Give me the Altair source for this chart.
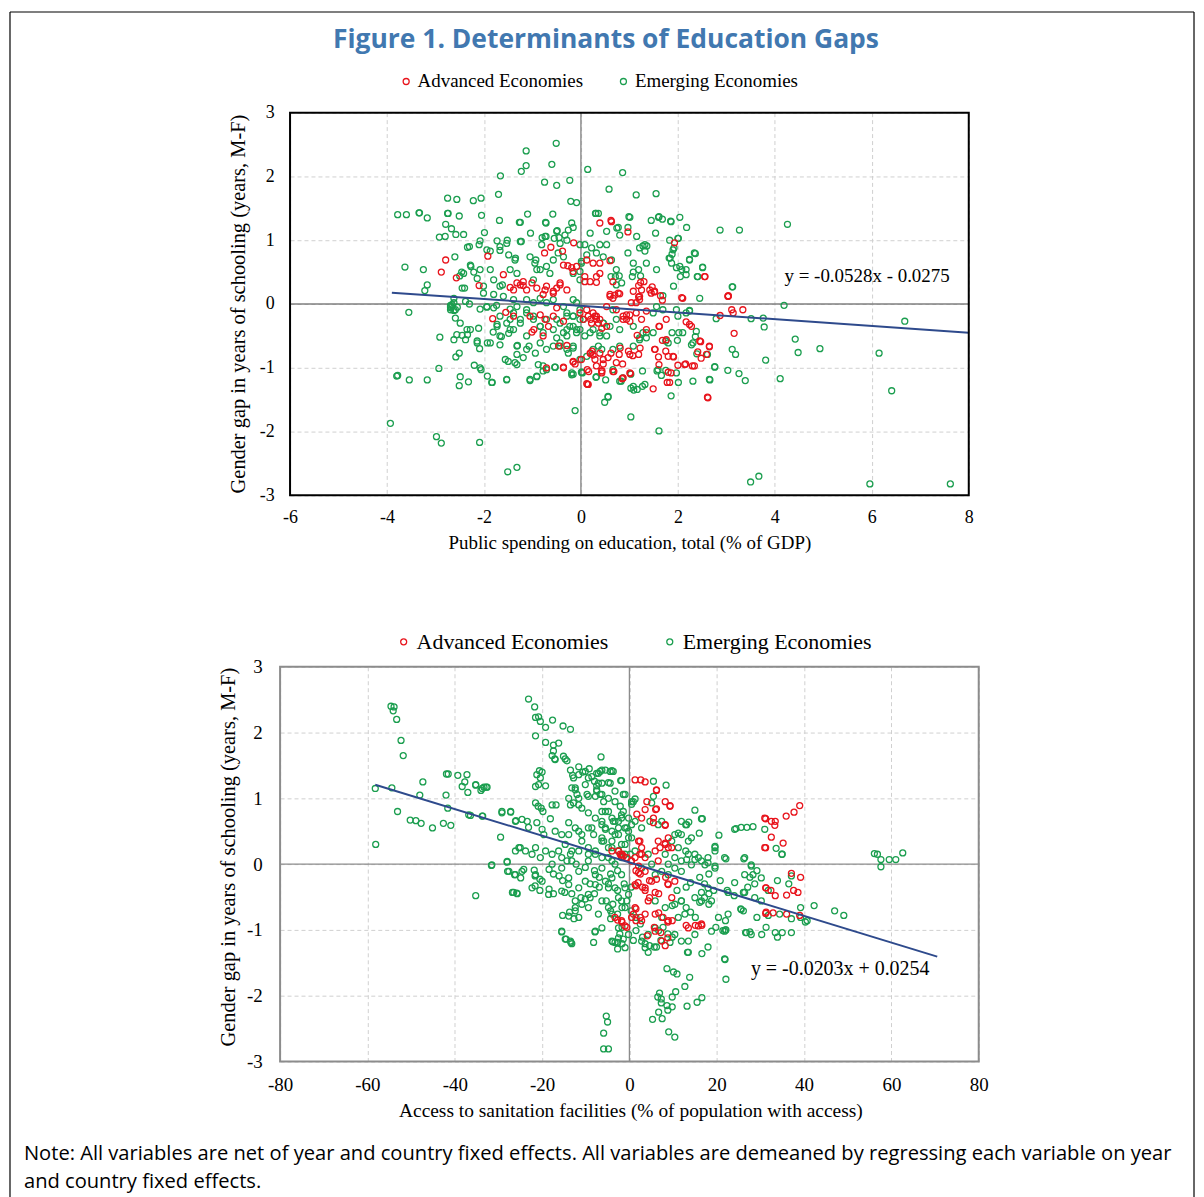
import altair as alt
import pandas as pd

# ---------------- data ----------------
SERIES = ["Advanced Economies", "Emerging Economies"]
COLORS = ["#E8141C", "#1B9E4F"]

TOP_EMG = [
    (-0.51, 2.52), (-1.13, 2.40), (-1.13, 2.17), (-1.23, 2.08), (-0.60, 2.19), (0.14, 2.11), (-1.66, 2.01),
    (-0.75, 1.91), (-0.50, 1.86), (-0.23, 1.94), (-1.70, 1.72), (-2.75, 1.66), (-2.56, 1.64), (-2.22, 1.62),
    (-2.06, 1.66), (-0.21, 1.61), (-0.09, 1.59), (-3.78, 1.40), (-3.60, 1.40), (-3.34, 1.43), (-3.17, 1.35),
    (-2.75, 1.42), (-2.51, 1.38), (-2.05, 1.39), (-1.68, 1.31), (-1.10, 1.41), (-1.27, 1.28), (-0.58, 1.41),
    (-0.73, 1.28), (0.31, 1.42), (0.36, 1.42), (-2.79, 1.25), (-2.67, 1.18), (-2.92, 1.05), (-2.80, 1.06),
    (-2.58, 1.09), (-2.42, 1.09), (-2.08, 0.99), (-2.10, 0.93), (-2.30, 0.90), (-2.34, 0.89), (-1.99, 1.12),
    (-1.73, 0.99), (-1.52, 1.00), (-1.23, 0.98), (-1.04, 1.11), (-0.80, 1.04), (-0.72, 1.06), (-0.55, 1.03),
    (-0.45, 1.04), (-0.33, 1.08), (-0.26, 1.16), (-0.16, 1.20), (-0.49, 1.15), (0.19, 1.11), (0.53, 1.14),
    (0.77, 1.20), (-2.60, 0.74), (-3.63, 0.58), (-3.25, 0.54), (-3.17, 0.30), (-3.22, 0.21), (-3.55, -0.13),
    (-2.46, 0.50), (-2.50, 0.44), (-2.27, 0.59), (-2.21, 0.50), (-2.14, 0.40), (-2.40, 0.25), (-1.94, 0.85),
    (-1.87, 0.83), (-1.67, 0.84), (-2.01, 0.17), (-1.80, 0.15), (-1.62, 0.30), (-1.35, 0.72), (-1.05, 0.74),
    (-0.93, 0.69), (-0.91, 0.54), (-0.71, 0.59), (-0.57, 0.69), (-0.47, 0.80), (-0.36, 0.74), (-0.02, 0.51),
    (0.01, 0.64), (-1.60, 0.12), (-1.39, 0.07), (-1.12, 0.07), (-0.84, 0.09), (-0.57, 0.07), (-0.16, 0.07),
    (-2.69, -0.02), (-2.62, -0.10), (-2.55, -0.05), (-2.08, -0.08), (-1.94, -0.05), (-1.74, -0.02), (-1.46, -0.08),
    (0.86, 2.06), (0.58, 1.80), (1.14, 1.71), (1.55, 1.73), (1.01, 1.36), (1.45, 1.31), (1.60, 1.36), (1.68, 1.33),
    (1.85, 1.30), (2.04, 1.36), (2.18, 1.20), (2.87, 1.16), (3.27, 1.16), (4.26, 1.25), (0.74, 1.19), (2.01, 1.03),
    (1.28, 0.91), (1.36, 0.91), (1.32, 0.83), (2.36, 0.79), (2.24, 0.70), (1.90, 0.85), (1.88, 0.78), (1.82, 0.72),
    (1.87, 0.64), (1.97, 0.57), (2.08, 0.54), (2.17, 0.46), (2.05, 0.43), (2.51, 0.58), (2.40, 0.43), (1.56, 0.54),
    (3.13, 0.27), (2.45, 0.09), (1.91, 0.28), (4.19, -0.02), (6.68, -0.27), (1.19, 0.54), (1.23, 0.44), (1.08, 0.50),
    (1.06, 0.43), (0.62, 0.43), (0.71, 0.43), (0.79, 0.44), (0.84, 0.33), (0.73, 0.30), (1.69, 0.13),
    (3.51, -0.23), (3.76, -0.22), (3.78, -0.36), (4.42, -0.55), (4.48, -0.76), (4.93, -0.70), (6.15, -0.77),
    (3.81, -0.88), (4.11, -1.17), (6.41, -1.36), (3.50, -2.79), (3.67, -2.70), (5.96, -2.82), (7.62, -2.82),
    (1.61, -1.99), (1.03, -1.77), (-0.12, -1.67), (0.49, -1.54), (0.56, -1.46), (1.03, -1.32), (1.09, -1.35),
    (1.16, -1.34), (1.27, -1.29), (1.86, -1.44), (2.66, -1.19), (2.76, -0.99), (3.03, -1.04), (3.26, -1.09),
    (3.39, -1.20), (2.01, -1.23), (1.57, -1.05), (1.66, -1.12), (1.75, -1.04), (0.83, -1.21), (0.86, -1.16),
    (0.31, -1.15), (0.51, -1.19), (1.03, -1.10), (1.27, -1.05), (-0.19, -1.11), (0.02, -1.07), (2.39, -0.78),
    (2.61, -0.79), (3.12, -0.71), (3.19, -0.79), (2.79, -0.23), (2.28, -0.64), (2.36, -0.51), (2.38, -0.43),
    (3.12, 0.27), (2.24, -0.11), (2.00, -0.19), (1.88, -0.45), (2.02, -0.45), (1.99, -0.57), (1.80, -0.61),
    (1.75, -0.58), (1.49, -0.45), (1.35, -0.53), (1.28, -0.45), (1.21, -0.53),
    (-0.29, -0.14), (-0.16, -0.19), (-0.02, -0.09), (0.05, -0.24), (-0.23, -0.35), (-0.09, -0.40), (0.19, -0.45),
    (0.25, -0.40), (0.46, -0.30), (0.60, -0.35), (0.39, -0.45), (0.53, -0.50), (0.36, -0.66), (0.43, -0.71),
    (0.25, -0.71), (0.12, -0.82), (-0.02, -0.87), (-0.26, -0.77), (-0.36, -0.45),
    (-2.91, -0.52), (-2.62, -0.56), (-2.56, -0.48), (-2.45, -0.49), (-2.38, -0.56), (-2.34, -0.48), (-2.28, -0.40),
    (-2.49, -0.30), (-2.69, -0.06), (-2.66, -0.01), (-2.59, -0.09), (-2.62, 0.09), (-2.38, 0.04), (-2.30, 0.00),
    (-2.58, -0.83), (-2.51, -0.77), (-2.93, -1.01), (-3.80, -1.13), (-3.78, -1.12), (-3.54, -1.19), (-3.17, -1.19),
    (-2.49, -1.14), (-2.51, -1.28), (-2.32, -1.22), (-3.93, -1.87), (-2.98, -2.08), (-2.88, -2.18), (-2.09, -2.17),
    (-1.51, -2.63), (-1.32, -2.56), (-2.20, -0.96), (-2.06, -1.03), (-1.93, -1.13), (-1.83, -1.23), (-1.53, -1.19),
    (-1.05, -1.20), (-0.91, -1.14), (-0.88, -0.95), (-0.78, -1.05), (-0.54, -0.99), (-0.19, -1.08), (0.03, -1.08),
    (-2.14, -0.58), (-2.09, -0.70), (-1.93, -0.61), (-1.81, -0.44), (-1.67, -0.64), (-1.64, -0.51), (-1.49, -0.46),
    (-1.56, -0.87), (-1.50, -0.90), (-1.36, -0.92), (-1.32, -0.79), (-1.19, -0.84), (-1.31, -0.65), (-1.07, -0.66),
    (-0.94, -0.77), (-0.71, -1.03), (-1.94, -0.04), (-1.80, -0.06), (-1.67, -0.19), (-1.46, -0.24), (-1.39, -0.14),
    (-1.25, -0.30), (-1.12, -0.09), (-0.98, -0.19), (-0.84, -0.35), (-0.71, -0.24), (-0.57, -0.40), (-0.43, -0.30),
    (-0.29, -0.19), (-0.16, -0.35), (-0.02, -0.24), (-1.39, -0.40), (-1.12, -0.50), (-0.78, -0.45), (-0.50, -0.53),
    (-0.29, -0.50), (-0.09, -0.45), (-1.73, -0.35), (-1.53, -0.30), (-1.32, -0.04), (-0.98, 0.02), (-0.71, 0.02),
    (-0.36, -0.04), (-0.09, 0.02), (-0.43, -0.66), (-0.29, -0.71), (-0.16, -0.69), (-1.12, -0.71), (-0.71, -0.71),
    (-0.57, -0.66),
    (-3.33, 1.43), (-2.74, 1.42), (-1.25, 1.28), (-0.72, 1.27), (0.30, 1.42), (0.99, 1.37), (1.61, 1.37),
    (1.86, 1.29), (0.97, 1.20), (1.15, 1.06), (1.54, 1.11), (0.80, 1.08), (0.39, 0.93), (0.22, 0.88), (0.08, 0.93),
    (0.12, 0.77), (0.53, 0.93), (0.32, 0.80), (0.46, 0.74), (0.63, 0.69), (0.73, 0.54), (0.97, 0.80), (1.08, 0.64),
    (1.21, 0.88), (1.32, 0.93), (1.35, 0.64), (1.84, 0.72), (1.92, 0.88), (1.83, 1.00), (2.00, 1.03), (2.04, 0.59),
    (2.17, 0.54), (2.24, 0.69), (2.34, 0.80), (2.41, 0.43), (2.51, 0.57), (2.24, -0.10),
    (-2.42, 0.48), (-2.45, 0.25), (-2.28, 0.61), (-2.08, 0.54), (-1.87, 0.54), (-1.80, 0.38), (-1.67, 0.90),
    (-1.53, 0.95), (-1.49, 0.77), (-1.36, 0.69), (-1.25, 0.98), (-0.95, 0.64), (-0.81, 0.93), (-0.74, 1.06),
    (-0.50, 1.14), (-0.43, 0.95), (-0.29, 1.00), (-0.19, 1.27), (-0.02, 0.93), (0.01, 0.67), (-1.46, 0.54),
    (-1.32, 0.48), (-0.84, 0.54), (-0.64, 0.48), (-0.16, 0.48), (-0.02, 0.38), (-0.98, 0.38), (-1.67, 0.28),
    (-2.01, 0.28), (-2.62, 0.02), (-2.69, -0.09),
    (-2.08, -1.00), (-1.84, -1.23), (-1.53, -1.18), (-1.32, -0.95), (-1.05, -1.18), (-0.91, -1.13), (-0.78, -0.97),
    (-0.53, -0.99), (-0.16, -1.10), (0.01, -1.07), (0.32, -1.14), (0.56, -1.45), (0.66, -1.03), (0.80, -1.21),
    (1.08, -1.29), (1.32, -1.26), (1.59, -1.03), (1.97, -1.08), (2.31, -1.21), (2.65, -1.18), (2.76, -0.98),
    (-2.69, -0.04), (-2.59, -0.22), (-2.35, -0.40), (-2.11, -0.38), (-1.73, -0.32), (-1.67, -0.50), (-1.46, -0.40),
    (-1.25, -0.24), (-1.12, -0.14), (-0.98, -0.24), (-0.84, -0.35), (-0.50, -0.24), (-0.29, -0.40), (-0.16, -0.19),
    (-0.02, -0.40), (0.08, -0.50), (0.39, -0.50), (0.46, -0.30), (0.66, -0.09), (0.73, -0.24), (0.80, -0.40),
    (1.08, -0.35), (1.21, -0.56), (1.35, -0.45), (1.49, -0.14), (1.56, -0.04), (1.69, -0.09), (1.97, -0.09),
    (2.17, -0.14), (1.08, -0.66), (0.80, -0.66), (0.66, -0.71), (-0.16, -0.66), (-0.43, -0.61), (-0.84, -0.61),
    (-1.32, -0.66), (-1.87, -0.61), (-2.14, -0.61), (2.10, -0.45), (2.31, -0.61),
]

TOP_ADV = [
    (0.39, 1.27), (0.63, 1.29), (-0.15, 0.96), (-0.62, 0.89), (-2.79, 0.69), (-2.88, 0.50), (-2.57, 0.41),
    (-2.10, 0.29), (-1.92, 0.75), (-0.27, 0.60), (-0.09, 0.59), (0.12, 0.69), (0.19, 0.35), (0.32, 0.43),
    (-0.16, 0.51), (-0.43, 0.30), (-0.29, 0.22), (-1.46, 0.26), (-1.39, 0.22), (-1.25, 0.30), (-1.19, 0.29),
    (-1.01, 0.33), (-0.91, 0.25), (-0.74, 0.22), (-0.57, 0.17), (0.62, 1.31), (0.97, 1.13), (1.93, 0.96),
    (2.56, 0.43), (3.04, 0.12), (2.08, 0.10), (3.11, -0.09), (3.34, -0.09), (3.14, -0.14), (1.19, 0.29),
    (1.23, 0.34), (1.25, 0.22), (1.19, 0.11), (1.47, 0.27), (1.51, 0.19), (1.45, 0.17), (1.64, 0.13), (1.68, 0.06),
    (1.49, -1.33), (2.61, -1.46), (1.78, -1.23), (1.80, -1.07), (1.86, -1.08), (0.14, -1.26), (0.16, -1.06),
    (0.43, -1.05), (0.68, -1.06), (1.02, -1.09), (-0.16, -0.90), (-0.12, -0.94), (-0.36, -0.99), (1.61, -0.95),
    (1.80, -0.82), (1.91, -0.83), (2.00, -0.96), (2.16, -0.94), (2.30, -0.97), (1.53, -0.71), (1.60, -0.83),
    (2.41, -0.75), (2.48, -0.85), (2.59, -0.79), (2.65, -0.67), (3.16, -0.46), (3.04, 0.13), (2.87, -0.18),
    (2.47, -0.59), (2.28, -0.35), (2.17, -0.28), (1.75, -0.74), (1.61, -0.35), (1.76, -0.24), (1.68, -0.57),
    (1.16, -0.49), (1.22, -0.69), (1.19, -0.79), (1.07, -0.81), (0.98, -0.74), (0.81, -0.69), (0.79, -0.79),
    (0.62, -0.77), (0.20, -0.77), (0.23, -0.74), (0.29, -0.87), (0.46, -0.94), (0.66, -1.06), (0.85, -1.17),
    (0.86, -0.94), (0.73, -0.92), (0.12, -0.09), (0.25, -0.14), (0.32, -0.19), (0.39, -0.24), (0.53, -0.04),
    (0.60, 0.12), (0.70, 0.14), (0.73, -0.09), (0.87, -0.19), (0.94, -0.24), (1.01, -0.17), (1.14, 0.02),
    (1.21, 0.12), (1.35, -0.11), (1.04, 0.02),
    (-1.82, -0.23), (-1.55, -0.13), (-1.01, -0.44), (-0.46, -0.66), (-0.29, -0.65), (-0.16, -0.91), (0.19, -0.77),
    (0.25, -0.80), (0.13, -1.03), (0.32, -0.97), (0.43, -1.05), (0.87, -1.16), (0.12, -1.25), (-0.36, -1.00),
    (-1.39, -0.19), (-1.05, -0.19), (-0.84, -0.17), (-0.74, -0.24), (-0.57, -0.19), (-0.50, -0.06), (-0.02, -0.14),
    (0.05, -0.24), (0.15, -0.19), (0.22, -0.30), (0.29, -0.19), (0.36, -0.30), (0.66, 0.09), (0.60, 0.15),
    (0.77, 0.17), (0.94, -0.17),
    (-0.38, 0.83), (-0.75, 0.80), (-0.36, 0.61), (-0.19, 0.57), (0.25, 0.64), (0.39, 0.64), (0.60, 0.68),
    (0.39, 0.48), (0.32, 0.34), (0.08, 0.43), (0.08, 0.35), (0.66, 0.35), (0.80, 0.16), (1.08, 0.20), (1.21, 0.07),
    (1.42, 0.22), (1.52, 0.20), (2.10, 0.09), (2.55, 0.43), (3.03, 0.12), (1.30, 0.35), (-1.60, 0.46),
    (-1.32, 0.33), (-1.19, 0.35), (-1.12, 0.22), (-0.71, 0.28), (-0.57, 0.20), (-0.50, 0.25), (-0.78, 0.15),
    (-0.43, 0.33), (-0.67, -0.35), (-0.97, -0.40), (-0.78, -0.50), (-0.36, -0.27), (0.20, -0.24), (0.32, -0.24),
    (0.43, -0.38), (0.53, -0.35), (0.39, -0.77), (0.46, -0.87), (0.87, -0.24), (1.01, -0.27), (1.14, -0.14),
    (1.25, -0.24), (1.35, -0.40), (1.62, -0.35), (1.76, -0.56), (1.90, -0.82), (1.52, -0.71), (2.24, -0.32),
    (2.45, -0.58), (2.65, -0.66), (2.14, -0.95), (2.34, -0.97), (2.62, -1.47), (1.01, -0.79), (0.56, -0.84),
    (0.01, -0.87), (-0.71, -1.00), (0.15, -1.26), (0.43, -1.08), (1.01, -1.08), (1.83, -1.23),
]

BOT_EMG = [
    (-54.6, 2.40), (-53.9, 2.39), (-54.1, 2.33), (-53.3, 2.20), (-52.3, 1.88), (-51.8, 1.65), (-58.2, 1.15),
    (-54.4, 1.16), (-58.1, 0.30), (-53.1, 0.80), (-50.2, 0.67), (-48.9, 0.66), (-47.7, 0.62), (-48.0, 1.05),
    (-47.3, 1.25), (-45.1, 0.55), (-42.6, 0.62), (-40.9, 0.59), (-42.0, 1.05), (-41.6, 0.85), (-41.9, 1.37),
    (-41.5, 1.37), (-39.3, 1.35), (-37.2, 1.36), (-38.3, 1.18), (-37.7, 1.25), (-37.0, 1.09), (-35.2, 1.20),
    (-34.0, 1.12), (-33.3, 1.17), (-32.6, 1.17), (-36.4, 0.74), (-33.6, 0.73), (-29.5, 0.41), (-29.2, 0.78),
    (-27.2, 0.79), (-26.0, 0.66), (-31.6, -0.02), (-28.0, 0.03), (-23.1, 2.51), (-21.7, 2.39), (-21.5, 2.23),
    (-20.8, 2.24), (-20.4, 2.17), (-19.2, 2.08), (-21.5, 1.95), (-17.6, 2.19), (-15.2, 2.10), (-13.5, 2.05),
    (-19.2, 1.85), (-17.4, 1.81), (-16.2, 1.84), (-17.4, 1.72), (-17.7, 1.65), (-17.1, 1.60), (-15.1, 1.64),
    (-14.7, 1.60), (-6.5, 1.63), (-20.6, 1.42), (-20.0, 1.40), (-21.2, 1.36), (-20.4, 1.31), (-20.8, 1.21),
    (-19.2, 1.19), (-21.5, 1.18), (-13.5, 1.43), (-13.0, 1.35), (-11.6, 1.48), (-10.7, 1.40), (-9.2, 1.45),
    (-7.1, 1.38), (-6.3, 1.43), (-4.0, 1.42), (-9.4, 1.31), (-8.0, 1.26), (-7.5, 1.19), (-7.5, 1.13), (-2.0, 1.27),
    (-4.8, 1.24), (-13.2, 1.16), (-12.4, 1.13), (-12.0, 1.06), (-9.7, 1.06), (-7.8, 1.03), (-6.3, 1.06),
    (-3.3, 1.11), (-1.0, 1.06), (1.3, 0.99), (0.5, 0.91), (-21.5, 0.93), (-20.9, 0.88), (-20.2, 0.85),
    (-19.8, 0.80), (-17.7, 0.90), (-16.8, 0.90), (-13.5, 0.90), (-12.8, 0.93), (-11.6, 0.90), (-10.9, 0.85),
    (-9.4, 0.78), (-7.8, 0.70), (-6.3, 0.80), (-4.8, 0.80), (-3.3, 0.65), (-1.8, 0.70), (-2.5, 0.55), (-0.2, 0.50),
    (0.5, 0.60), (-26.1, 0.65), (-24.6, 0.68), (-23.4, 0.65), (-23.1, 0.56), (-21.2, 0.63), (-20.0, 0.53),
    (-19.6, 0.45), (-18.1, 0.69), (-17.0, 0.50), (-15.5, 0.45), (-13.9, 0.63), (-12.4, 0.55), (-10.9, 0.45),
    (-9.4, 0.55), (-8.2, 0.45), (-6.3, 0.40), (-5.5, 0.53), (-4.0, 0.35), (-26.1, 0.20), (-25.0, 0.25),
    (-23.8, 0.20), (-22.3, 0.15), (-21.5, 0.25), (-20.4, 0.10), (-19.2, 0.20), (-17.7, 0.15), (-16.2, 0.20),
    (-15.5, 0.10), (-14.3, 0.05), (-13.5, 0.15), (-11.6, 0.20), (-9.4, 0.15), (-7.8, 0.20), (-6.3, 0.10),
    (-4.0, 0.05), (-2.5, 0.20), (-1.0, 0.15),
    (0.9, 0.95), (5.5, 1.03), (5.1, 0.93), (4.7, 0.65), (1.3, 0.65), (2.8, 0.55), (6.6, 0.60), (7.4, 0.65),
    (10.4, 0.45), (11.2, 0.47), (9.7, 0.35), (12.9, 0.60), (13.6, 0.64), (15.0, 0.82), (16.7, 0.69), (16.0, 0.47),
    (14.2, 0.40), (11.2, 0.25), (12.9, 0.20), (15.0, 0.07), (15.8, 0.10), (18.0, 0.02), (19.6, 0.20), (19.6, 0.27),
    (20.5, 0.44), (22.1, 0.08), (26.2, 0.08), (24.4, 0.54), (25.6, 0.56), (26.9, 0.56), (28.3, 0.57), (31.0, 0.53),
    (33.6, 0.24), (34.9, 0.15), (56.1, 0.16), (56.8, 0.15), (57.6, 0.07), (59.5, 0.07), (61.0, 0.07), (62.6, 0.17),
    (57.6, -0.04), (5.5, 1.26), (8.4, 1.20),
    (-6.7, 1.41), (-5.5, 1.43), (-4.4, 1.41), (-3.7, 1.41), (-4.4, 1.23), (-6.3, 1.23), (-6.7, 1.06), (-5.9, 0.95),
    (-5.5, 0.80), (-6.3, 0.65), (-3.7, 0.65), (-2.1, 0.88), (-1.4, 1.06), (-1.8, 0.75), (-0.2, 0.70), (-0.6, 0.55),
    (-2.5, 0.45), (-4.0, 0.50), (-5.5, 0.55), (-5.9, 0.35), (-4.0, 0.25), (-2.5, 0.20), (-1.0, 0.30), (-1.8, 0.10),
    (0.2, 0.15), (-4.8, 0.10), (10.4, 0.10), (11.9, 0.05), (13.1, 0.07), (13.5, 0.15), (14.2, -0.01), (17.3, -0.01),
    (19.6, -0.03), (27.9, -0.01), (8.2, 0.15), (4.3, 0.15), (1.3, 0.20), (0.5, 0.40),
    (-31.5, -0.01), (-28.0, 0.04), (-27.9, -0.11), (-26.3, -0.16), (-24.9, -0.21), (-24.2, -0.08), (-21.8, -0.09),
    (-21.6, -0.18), (-20.5, -0.23), (-18.4, -0.08), (-17.4, -0.15), (-16.1, -0.18), (-15.3, -0.25), (-35.2, -0.48),
    (-26.8, -0.43), (-25.8, -0.44), (-21.6, -0.33), (-20.5, -0.40), (-18.4, -0.38), (-17.4, -0.45), (-14.8, -0.43),
    (-13.2, -0.45), (-11.1, -0.51), (-10.1, -0.53), (-9.0, -0.51), (-8.0, -0.45), (-15.3, -0.78), (-13.7, -0.73),
    (-12.7, -0.83), (-12.4, -0.66), (-15.5, -1.03), (-14.5, -1.14), (-13.4, -1.19), (-13.2, -1.21), (-7.9, -1.03),
    (-8.2, -1.19), (-3.8, -1.18), (-2.7, -1.19), (-1.7, -1.21), (-2.7, -1.29), (-2.2, -1.06), (-1.7, -0.96),
    (-4.3, -0.83), (-2.7, -0.76), (-1.7, -0.66), (-0.6, -0.56), (-3.8, -0.61), (-5.3, -0.56), (-4.3, -0.71),
    (-9.0, -0.30), (-6.9, -0.35), (-4.8, -0.30), (-2.7, -0.40), (-1.2, -0.30), (0.4, -0.35), (-6.9, -0.20),
    (-4.3, -0.15), (-2.7, -0.10), (-8.0, -0.10), (-10.1, -0.05), (-12.2, 0.0), (-13.2, 0.05), (0.4, -0.71),
    (1.5, -0.81), (2.5, -0.91), (1.5, -1.01), (3.0, -1.11), (3.6, -1.21), (4.6, -1.24), (0.9, -1.16), (5.7, -1.26),
    (6.7, -1.01), (7.7, -0.96), (8.8, -1.06), (9.8, -1.11), (9.3, -1.19), (6.2, -1.26), (7.2, -1.16), (9.8, -0.63),
    (11.9, -0.56), (13.0, -0.66), (14.0, -0.73), (15.1, -0.81), (16.1, -0.58), (17.2, -0.51), (18.2, -0.45),
    (19.3, -0.40), (18.2, -0.61), (19.8, -0.96), (20.4, -0.81), (21.4, -1.01), (22.0, -1.00), (10.9, -0.40),
    (13.0, -0.35), (14.0, -0.28), (16.1, -0.20), (17.2, -0.30), (18.2, -0.15), (20.8, -0.25), (22.4, -0.40),
    (24.0, -0.48), (26.1, -0.43), (27.1, -0.35), (28.7, -0.30), (27.6, -0.20), (29.2, -0.10), (31.8, -0.40),
    (33.9, -0.25), (36.5, -0.30), (37.1, -0.18), (35.0, 0.15), (25.5, -0.68), (26.1, -0.71), (29.2, -0.81),
    (31.8, -0.78), (34.4, -0.76), (37.1, -0.83), (39.2, -0.66), (40.7, -0.86), (42.3, -0.63), (40.3, -0.88),
    (39.2, -0.81), (47.0, -0.71), (49.1, -0.78), (22.0, -0.86), (22.1, -1.00), (26.6, -1.04), (27.6, -1.03),
    (30.3, -1.07), (31.3, -0.96), (33.4, -1.04), (33.9, -1.11), (35.0, -1.04), (37.1, -1.04), (21.9, -1.45),
    (22.1, -1.75), (13.3, -1.34), (16.6, -1.36), (8.6, -1.59), (10.1, -1.64), (10.9, -1.67), (13.8, -1.72),
    (12.7, -1.86), (10.6, -1.94), (9.8, -2.02), (6.9, -1.96), (6.5, -2.02), (7.3, -2.05), (7.3, -2.11), (8.6, -2.15),
    (9.8, -2.17), (13.2, -2.16), (15.5, -2.10), (16.6, -2.03), (5.3, -2.36), (7.5, -2.35), (9.0, -2.55),
    (10.4, -2.63), (6.7, -2.25), (8.8, -2.22), (-5.3, -2.31), (-5.0, -2.40), (-5.9, -2.57), (-5.9, -2.81),
    (-4.8, -2.81),
    (-17.0, 1.59), (-14.3, 1.57), (-12.8, 1.31), (-11.6, 1.36), (-10.1, 1.41), (-8.6, 1.33), (-7.5, 1.38),
    (-7.1, 1.23), (-7.5, 1.11), (-10.1, 1.21), (-12.4, 1.16), (-13.9, 1.00), (-11.6, 1.00), (-9.4, 1.03),
    (-1.8, 1.27), (-4.8, 1.00), (-3.3, 0.95), (0.5, 0.95), (-1.4, 0.80), (-29.2, 0.80), (-27.2, 0.80),
    (-35.2, 1.21), (-33.7, 1.15), (-32.8, 1.17), (-36.8, 0.75), (-33.7, 0.73), (-26.5, -0.43), (-25.7, -0.45),
    (-25.3, 0.25), (-27.6, -0.11), (-26.1, -0.16), (-24.6, -0.11), (-21.5, -0.16), (-20.0, -0.26), (-17.7, 0.0),
    (-15.5, -0.06), (-13.9, -0.21), (-11.6, -0.11), (-9.4, 0.05), (-7.8, -0.16), (-6.3, -0.06), (-4.0, -0.21),
    (-3.3, 0.0), (-1.8, -0.16), (-22.3, -0.36), (-18.5, -0.46), (-15.5, -0.41), (-12.4, -0.56), (-9.4, -0.46),
    (-6.3, -0.56), (-4.8, -0.36), (-2.5, -0.51), (-1.0, -0.66), (-4.0, -0.76), (-15.5, -1.02), (-14.7, -1.14),
    (-13.5, -1.17), (-7.8, -1.02), (-4.0, -1.17), (-3.3, -1.19), (-2.5, -1.12), (-1.4, -1.14), (-12.4, -0.71),
    (-10.9, -0.61), (-13.9, -0.79),
    (11.9, 0.65), (13.1, 0.60), (16.5, 0.69), (11.9, 0.45), (13.5, 0.35), (15.0, 0.15), (16.5, 0.05), (18.0, 0.10),
    (19.6, 0.25), (19.6, -0.06), (18.0, -0.36), (16.5, -0.43), (15.0, -0.51), (16.5, -0.56), (18.8, -0.56),
    (21.8, 0.10), (24.1, 0.53), (26.4, 0.10), (27.9, -0.03), (28.3, -0.16), (30.2, -0.21), (26.4, -0.16),
    (24.1, -0.28), (22.6, -0.43), (26.4, -0.43), (28.7, -0.51), (30.2, -0.56), (22.6, -0.76), (21.8, -1.02),
    (18.8, -1.02), (25.6, -0.69), (26.8, -1.04), (27.9, -1.07), (13.5, -1.34), (18.0, -1.26), (21.8, -1.44),
    (-14.7, 0.30), (-13.2, 0.20), (-10.9, 0.35), (-9.4, 0.25), (-7.8, 0.15), (-6.3, 0.35), (-4.8, 0.25),
    (-3.3, 0.45), (-1.8, 0.30), (-0.2, 0.40), (-1.0, 0.55), (-2.5, 0.65), (-4.0, 0.70), (-6.3, 0.60), (-8.6, 0.55),
    (-11.6, 0.50), (-13.9, 0.45), (-13.9, -0.31), (-11.6, -0.36), (-10.1, -0.26), (-7.8, -0.31), (-5.5, -0.26),
    (-3.3, -0.36), (-1.0, -0.36), (-0.2, -0.46), (-1.8, -0.56), (-4.8, -0.66), (-7.1, -0.76), (-9.4, -0.66),
    (-11.6, -0.81), (-6.3, -0.97), (-2.5, -0.97), (-0.2, -1.07), (-1.0, -1.27), (2.8, -1.17), (4.3, -1.07),
    (2.8, -0.06), (5.1, 0.0), (5.9, -0.16), (7.4, -0.11), (8.9, 0.0), (10.4, -0.06), (11.9, -0.11), (8.9, -0.16),
    (5.9, -0.56), (8.2, -0.66), (10.4, -0.61), (11.9, -0.56), (12.7, -0.76), (11.2, -0.81), (7.4, -0.81),
    (5.9, -0.97), (10.4, -1.07), (11.9, -1.17), (3.6, -1.27), (4.3, -1.34), (13.5, -1.17), (15.0, -1.07),
]

BOT_ADV = [
    (1.3, 1.28), (2.6, 1.28), (3.6, 1.25), (1.7, 0.76), (-2.5, 0.20), (-1.8, 0.12), (2.4, 0.35), (2.8, 0.25),
    (6.2, 1.12), (4.0, 0.95), (8.2, 0.95), (9.3, 0.89), (6.0, 0.83), (5.5, 0.70), (8.2, 0.60), (2.8, 0.70),
    (31.2, 0.69), (32.5, 0.65), (33.3, 0.59), (33.4, 0.65), (32.5, 0.41), (31.2, 0.25), (35.2, 0.32), (35.9, 0.73),
    (37.7, 0.79), (39.0, 0.89), (-4.0, 0.20), (-1.4, 0.12), (2.1, 0.35), (2.4, 0.15), (3.6, 0.10), (5.9, 0.20),
    (7.0, 0.25), (8.2, 0.32), (8.9, 0.25), (6.6, 0.05), (2.1, -0.03), (0.5, 0.05),
    (-1.7, 0.15), (-0.6, 0.10), (0.4, 0.05), (1.5, -0.10), (2.5, -0.15), (2.0, -0.28), (1.5, -0.33), (3.0, -0.35),
    (3.6, -0.40), (4.6, -0.25), (6.2, -0.23), (8.3, -0.20), (8.8, -0.30), (6.7, -0.45), (4.6, -0.51), (1.5, -0.68),
    (0.9, -0.76), (1.5, -0.86), (2.5, -0.81), (-2.7, -0.85), (-1.7, -0.88), (-0.6, -0.96), (3.6, -0.76),
    (6.7, -0.74), (7.7, -0.81), (8.8, -0.88), (9.8, -0.86), (13.0, -0.93), (15.1, -0.93), (16.6, -0.93),
    (5.7, -0.96), (4.1, -1.09), (7.2, -1.04), (8.8, -1.12), (37.1, -0.14), (39.2, -0.20), (31.3, -0.36),
    (32.4, -0.40), (33.4, -0.48), (36.0, -0.47), (37.6, -0.40), (38.6, -0.43), (31.3, -0.73), (32.9, -0.74),
    (36.0, -0.76), (39.0, -0.78),
    (6.2, 1.13), (3.6, 0.83), (6.2, 0.84), (9.3, 0.88), (5.5, 0.63), (8.2, 0.59), (8.9, 0.40), (9.7, 0.25),
    (8.2, 0.30), (6.6, 0.35), (2.8, 0.15), (1.3, 0.10), (2.1, -0.13), (3.6, -0.11), (5.1, -0.26), (3.6, -0.36),
    (1.3, -0.31), (5.9, -0.43), (8.9, -0.31), (10.4, -0.26), (9.7, -0.51), (4.3, -0.56), (1.3, -0.66),
    (0.5, -0.81), (2.8, -0.86), (5.9, -0.76), (8.9, -0.86), (13.5, -0.97), (15.8, -0.94), (16.5, -0.91),
    (-3.3, -0.81), (-1.8, -0.86), (-1.0, -0.94), (7.4, -1.17), (5.9, -1.02), (8.2, -1.24), (-2.1, 0.15),
    (31.0, 0.70), (31.0, 0.25), (31.2, -0.36), (31.2, -0.75),
]

TOP_X_TICKS = [-6, -4, -2, 0, 2, 4, 6, 8]
BOT_X_TICKS = [-80, -60, -40, -20, 0, 20, 40, 60, 80]
Y_TICKS = [-3, -2, -1, 0, 1, 2, 3]

TOP_FIT = {"slope": -0.0528, "intercept": -0.0275, "x": [-3.9, 8.0]}
BOT_FIT = {"slope": -0.0203, "intercept": 0.0254, "x": [-58.2, 70.5]}

TITLE = "Figure 1. Determinants of Education Gaps"
Y_TITLE = "Gender gap in years of schooling (years, M-F)"
TOP_X_TITLE = "Public spending on education, total (% of GDP)"
BOT_X_TITLE = "Access to sanitation facilities (% of population with access)"
TOP_EQ = "y = -0.0528x - 0.0275"
BOT_EQ = "y = -0.0203x + 0.0254"
NOTE = [
    "Note: All variables are net of year and country fixed effects. All variables are demeaned by regressing each variable on year",
    "and country fixed effects.",
]

SERIF = "Liberation Serif"
SANS = "Open Sans"


# ---------------- helpers ----------------
def points_df(adv, emg):
    rows = [{"x": x, "y": y, "series": SERIES[1]} for x, y in emg]
    rows += [{"x": x, "y": y, "series": SERIES[0]} for x, y in adv]
    return pd.DataFrame(rows)


def text_layer(text, x, y, size, font=SERIF, angle=0, align="center", weight="normal", color="black"):
    return alt.Chart(pd.DataFrame({"t": [text]})).mark_text(
        font=font, fontSize=size, angle=angle, align=align, baseline="middle",
        fontWeight=weight, color=color,
    ).encode(x=alt.value(x), y=alt.value(y), text="t:N")


def rule_layer(x, y, x2=None, y2=None, color="black", width=1.2):
    enc = {"x": alt.value(x), "y": alt.value(y)}
    if x2 is not None:
        enc["x2"] = alt.value(x2)
    if y2 is not None:
        enc["y2"] = alt.value(y2)
    return alt.Chart(pd.DataFrame({"a": [0]})).mark_rule(color=color, strokeWidth=width).encode(**enc)


def frame_layer(w, h, color, width):
    return alt.Chart(pd.DataFrame({"a": [0]})).mark_rect(
        fill="transparent", stroke=color, strokeWidth=width
    ).encode(x=alt.value(0), x2=alt.value(w), y=alt.value(0), y2=alt.value(h))


def panel(adv, emg, xdom, xticks, fit, w, h, tick_fs, xpad, ypad, legend, frame_color, zero_color, extras):
    X = alt.X("x:Q", scale=alt.Scale(domain=xdom, nice=False, zero=False),
              axis=alt.Axis(values=xticks, title=None, grid=True, gridDash=[4, 3], gridColor="#d0d0d0",
                            gridWidth=1, domain=False, ticks=False, tickSize=0, labelFont=SERIF,
                            labelFontSize=tick_fs, labelColor="black", labelPadding=xpad,
                            labelExpr="'' + datum.value", labelFlush=False))
    Y = alt.Y("y:Q", scale=alt.Scale(domain=[-3, 3], nice=False, zero=False),
              axis=alt.Axis(values=Y_TICKS, title=None, grid=True, gridDash=[4, 3], gridColor="#d0d0d0",
                            gridWidth=1, domain=False, ticks=False, tickSize=0, labelFont=SERIF,
                            labelFontSize=tick_fs, labelColor="black", labelPadding=ypad,
                            labelExpr="'' + datum.value", labelFlush=False))
    vzero = alt.Chart(pd.DataFrame({"x": [0]})).mark_rule(color=zero_color, strokeWidth=1.3).encode(x=X)
    hzero = alt.Chart(pd.DataFrame({"y": [0]})).mark_rule(color=zero_color, strokeWidth=1.3).encode(y=Y)
    pts = alt.Chart(points_df(adv, emg)).mark_point(
        shape="circle", filled=False, size=36, strokeWidth=1.3, opacity=1
    ).encode(
        x=X, y=Y,
        color=alt.Color("series:N", scale=alt.Scale(domain=SERIES, range=COLORS), legend=alt.Legend(**legend)),
    )
    line = alt.Chart(pd.DataFrame({"x": fit["x"]})).transform_calculate(
        y=f"{fit['slope']} * datum.x + ({fit['intercept']})"
    ).mark_line(color="#2E4A8C", strokeWidth=2).encode(x=X, y=Y)
    return alt.layer(vzero, hzero, pts, line, frame_layer(w, h, frame_color, 2), *extras).properties(
        width=w, height=h, view=alt.ViewBackground(stroke="transparent", fill="white"),
    )


top_legend = dict(orient="none", direction="horizontal", legendX=107, legendY=-41, title=None,
                  labelFont=SERIF, labelFontSize=19, labelColor="black", labelLimit=0,
                  symbolType="circle", symbolSize=36, symbolStrokeWidth=1.3, labelOffset=2,
                  columnPadding=30, padding=0)
bot_legend = dict(orient="none", direction="horizontal", legendX=113, legendY=-36, title=None,
                  labelFont=SERIF, labelFontSize=22, labelColor="black", labelLimit=0,
                  symbolType="circle", symbolSize=36, symbolStrokeWidth=1.3, labelOffset=2,
                  columnPadding=50, padding=0)

top_extras = [
    rule_layer(-281, -101, x2=907),
    rule_layer(-281, -101, y2=1088),
    rule_layer(907, -101, y2=1088),
    text_layer(TITLE, 317, -73, 26.5, font=SANS, weight="bold", color="#4178B0"),
    text_layer(TOP_EQ, 579, 164, 19),
    text_layer(Y_TITLE, -51, 192, 20.5, angle=270),
    text_layer(TOP_X_TITLE, 341, 432, 19),
]
bot_extras = [
    text_layer(BOT_EQ, 562, 303, 20),
    text_layer(Y_TITLE, -51, 191, 20.5, angle=270),
    text_layer(BOT_X_TITLE, 352, 446, 19.5),
    text_layer(NOTE[0], -257, 489, 20.2, font=SANS, align="left"),
    text_layer(NOTE[1], -257, 517, 20.2, font=SANS, align="left"),
]

p1 = panel(TOP_ADV, TOP_EMG, [-6, 8], TOP_X_TICKS, TOP_FIT, 681, 384, 18, 13, 16,
           top_legend, "black", "#7f7f7f", top_extras)
p2 = panel(BOT_ADV, BOT_EMG, [-80, 80], BOT_X_TICKS, BOT_FIT, 701, 396, 19, 14, 18,
           bot_legend, "#8c8c8c", "#8c8c8c", bot_extras)

chart = alt.vconcat(p1, p2, spacing=172, center=True, bounds="flush").resolve_scale(
    x="independent", y="independent", color="independent"
).resolve_legend(color="independent").properties(padding=0, background="white")

chart.save("out.html", embed_options={"renderer": "svg", "actions": False})
